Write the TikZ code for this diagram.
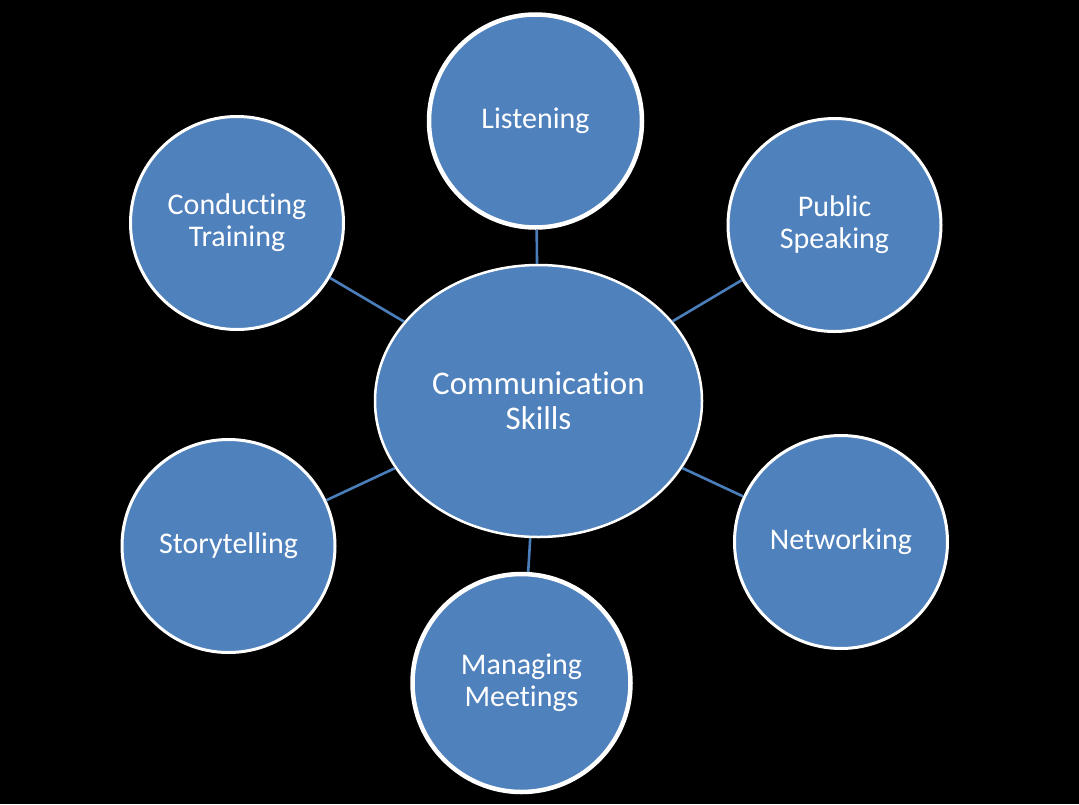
\documentclass[tikz,border=0pt]{standalone}
\usepackage{fontspec}
\setmainfont[Ligatures={NoCommon,NoContextual},RawFeature={-liga;-clig;-dlig;-calt}]{Carlito}
\usetikzlibrary{shapes.geometric}
\definecolor{bubble}{HTML}{4F81BD}
\definecolor{link}{HTML}{4A7EBB}
\begin{document}
\begin{tikzpicture}[x=1pt,y=-1pt,
  bub/.style={circle,fill=bubble,draw=white,line width=3pt,minimum size=213pt,inner sep=0pt,
     text=white,align=center,font=\fontsize{30}{32}\selectfont},
  thick bub/.style={bub,line width=4.5pt},
  hub/.style={ellipse,fill=bubble,draw=white,line width=2.5pt,minimum width=327pt,minimum height=272pt,
     inner sep=0pt,text=white,align=center,font=\fontsize{33}{35}\selectfont},
  conn/.style={draw=link,line width=2.6pt}]
\fill[black] (0,0) rectangle (1079,804);
\useasboundingbox (0,0) rectangle (1079,804);
\node[hub] (c) at (538.5,401) {Communication\\Skills};
\node[thick bub] (li) at (535.5,121) {Listening};
\node[bub] (ps) at (834.5,225) {Public\\Speaking};
\node[bub] (ct) at (237,223) {Conducting\\Training};
\node[bub] (st) at (228.5,546) {Storytelling};
\node[bub] (nw) at (841,542) {Networking};
\node[thick bub,minimum size=218pt] (mm) at (521.5,683) {Managing\\Meetings};
\path[conn] (c) -- (li);
\path[conn] (c) -- (ps);
\path[conn] (c) -- (ct);
\path[conn] (c) -- (st);
\path[conn] (c) -- (nw);
\path[conn] (c) -- (mm);
\end{tikzpicture}
\end{document}
